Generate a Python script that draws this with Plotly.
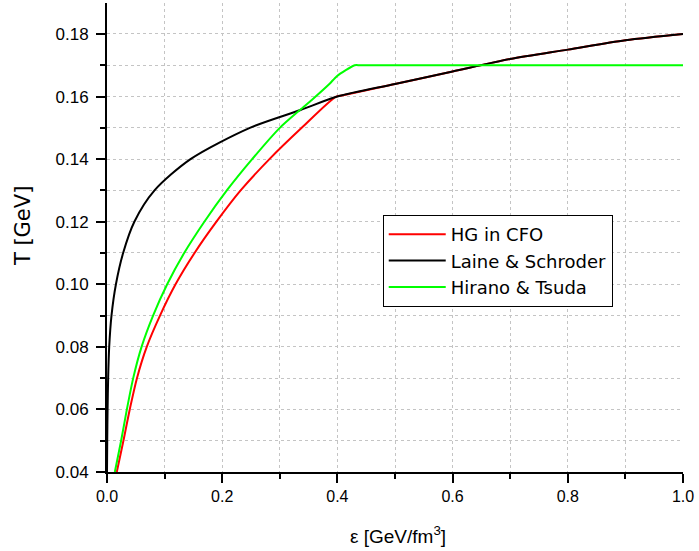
import plotly.graph_objects as go

# HG in CFO (red)
hg_eps = [0.017, 0.0285, 0.0395, 0.052, 0.069, 0.092, 0.119, 0.152, 0.19, 0.232, 0.282, 0.338, 0.398,
          0.41, 0.5, 0.6, 0.7, 0.8, 0.9, 1.0]
hg_T = [0.04, 0.05, 0.06, 0.07, 0.08, 0.09, 0.10, 0.11, 0.12, 0.13, 0.14, 0.15, 0.16,
        0.1604, 0.164, 0.168, 0.172, 0.175, 0.178, 0.18]

# Laine & Schroder (black)
ls_eps = [0.0, 0.0004, 0.001, 0.002, 0.0038, 0.0078, 0.0155, 0.028, 0.0475, 0.0825, 0.145,
          0.248, 0.336, 0.4, 0.5, 0.6, 0.7, 0.8, 0.9, 1.0]
ls_T = [0.04, 0.05, 0.06, 0.07, 0.08, 0.09, 0.10, 0.11, 0.12, 0.13, 0.14,
        0.15, 0.1557, 0.16, 0.164, 0.168, 0.172, 0.175, 0.178, 0.18]

# Hirano & Tsuda (green)
ht_eps = [0.0136, 0.0245, 0.0345, 0.0455, 0.060, 0.080, 0.1045, 0.134, 0.169, 0.208, 0.252,
          0.300, 0.3356, 0.356, 0.386, 0.399, 0.43, 0.44, 1.0]
ht_T = [0.04, 0.05, 0.06, 0.07, 0.08, 0.09, 0.10, 0.11, 0.12, 0.13, 0.14,
        0.15, 0.1558, 0.159, 0.164, 0.1665, 0.17, 0.17, 0.17]

x_ticks = [0.0, 0.2, 0.4, 0.6, 0.8, 1.0]
x_ticklabels = ["0.0", "0.2", "0.4", "0.6", "0.8", "1.0"]
y_ticks = [0.04, 0.06, 0.08, 0.10, 0.12, 0.14, 0.16, 0.18]
y_ticklabels = ["0.04", "0.06", "0.08", "0.10", "0.12", "0.14", "0.16", "0.18"]

FONT = "Liberation Sans, Arial, sans-serif"
WIDE = "DejaVu Sans, Liberation Sans, sans-serif"
GRID = "#c4c4c4"

fig = go.Figure()
fig.add_trace(go.Scatter(x=hg_eps, y=hg_T, mode="lines", name="HG in CFO",
                         line=dict(color="#ff0000", width=2, shape="spline", smoothing=0.8)))
fig.add_trace(go.Scatter(x=ls_eps, y=ls_T, mode="lines", name="Laine & Schroder",
                         line=dict(color="#000000", width=2, shape="spline", smoothing=0.8)))
fig.add_trace(go.Scatter(x=ht_eps, y=ht_T, mode="lines", name="Hirano & Tsuda",
                         line=dict(color="#00ff00", width=2, shape="spline", smoothing=0.6)))

axis_common = dict(
    showline=True, linecolor="black", linewidth=2, mirror=False,
    ticks="outside", ticklen=9, tickwidth=2, tickcolor="black",
    showgrid=True, gridcolor=GRID, gridwidth=1, griddash="dot",
    zeroline=False,
)

fig.update_xaxes(
    range=[0, 1.0], tickvals=x_ticks, ticktext=x_ticklabels,
    tickfont=dict(family=FONT, size=16, color="black"),
    minor=dict(dtick=0.1, ticklen=5, tickwidth=2, tickcolor="black", ticks="outside",
               showgrid=True, gridcolor=GRID, gridwidth=1, griddash="dot"),
    **axis_common,
)
fig.update_yaxes(
    range=[0.04, 0.1899], tickvals=y_ticks, ticktext=y_ticklabels,
    tickfont=dict(family=FONT, size=17, color="black"), ticklabelstandoff=4,
    minor=dict(dtick=0.01, tick0=0.04, ticklen=5, tickwidth=2, tickcolor="black", ticks="outside",
               showgrid=True, gridcolor=GRID, gridwidth=1, griddash="dot"),
    **axis_common,
)

fig.add_annotation(text="T [GeV]", xref="paper", yref="paper", x=-0.147, y=0.525,
                   xanchor="center", yanchor="middle", textangle=-90, showarrow=False,
                   font=dict(family=WIDE, size=21, color="black"))
fig.add_annotation(text="ε [GeV/fm<sup>3</sup>]", xref="paper", yref="paper", x=0.505, y=-0.135,
                   xanchor="center", yanchor="middle", showarrow=False,
                   font=dict(family=FONT, size=19, color="black"))

fig.update_layout(
    width=699, height=551,
    margin=dict(l=107, r=16, t=3, b=79),
    paper_bgcolor="white", plot_bgcolor="white",
    showlegend=True,
    legend=dict(x=0.4787, y=0.548, xanchor="left", yanchor="top",
                bgcolor="white", bordercolor="black", borderwidth=1,
                font=dict(family=WIDE, size=18, color="black"),
                itemwidth=57, tracegroupgap=0),
)

fig.write_html("out.html", config={"displayModeBar": False},
               post_script="document.body.style.margin='0';")
